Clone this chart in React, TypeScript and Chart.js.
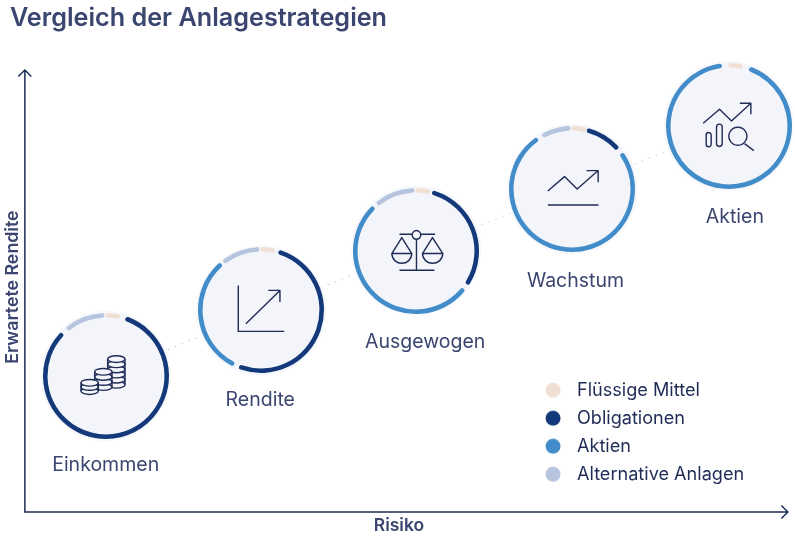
import React, { useEffect, useRef } from "react";
import { Chart, registerables } from "chart.js";

Chart.register(...registerables);

const strategies = ["Einkommen", "Rendite", "Ausgewogen", "Wachstum", "Aktien"];
const risk = [10.8, 31.6, 52.3, 73.2, 94.1];
const expectedReturn = [30.2, 44.8, 58.1, 71.8, 85.8];
const liquidity = [4, 4, 4, 4, 4];
const bonds = [85, 53, 31, 10, 0];
const equities = [0, 32.5, 54, 78, 96];
const alternatives = [11, 10.5, 11, 8, 0];

const assetLabels = ["Flüssige Mittel", "Obligationen", "Aktien", "Alternative Anlagen"];
const assetColors = ["#f0dfd3", "#14397b", "#418cc9", "#b6c4dd"];

const TITLE = "Vergleich der Anlagestrategien";
const X_TITLE = "Risiko";
const Y_TITLE = "Erwartete Rendite";

const FONT = "Inter, 'Liberation Sans', sans-serif";
const INK = "#1f2c55";
const TEXT = "#3a4570";

const labelOffsets = [[0, 89], [-1, 89.5], [9, 91.5], [3, 92.5], [6, 91]];

function coinStack(ctx: CanvasRenderingContext2D, x: number, top: number, rx: number, ry: number, layers: number, step: number) {
  for (let i = layers; i >= 0; i--) {
    const y = top + i * step;
    ctx.beginPath();
    ctx.ellipse(x, y, rx, ry, 0, 0, Math.PI * 2);
    ctx.fillStyle = "#f3f5fb";
    ctx.fill();
    ctx.stroke();
    if (i < layers) {
      ctx.beginPath();
      ctx.moveTo(x - rx, y);
      ctx.lineTo(x - rx, y + step);
      ctx.moveTo(x + rx, y);
      ctx.lineTo(x + rx, y + step);
      ctx.stroke();
    }
  }
}

const iconPaths: { origin: [number, number]; draw: (ctx: CanvasRenderingContext2D) => void }[] = [
  {
    origin: [228, 228],
    draw: (ctx) => {
      coinStack(ctx, 260, 177, 26, 10, 5, 15.4);
      coinStack(ctx, 221, 215, 26, 10, 3, 15.3);
      coinStack(ctx, 180, 248, 26, 10, 2, 12.5);
    },
  },
  {
    origin: [214, 225],
    draw: (ctx) => {
      ctx.stroke(new Path2D("M145 150V288H283M168 265L270 165M235 165H270V200"));
    },
  },
  {
    origin: [213, 226],
    draw: (ctx) => {
      ctx.stroke(new Path2D("M163 177H201M227 177H270M214 192V285M163 285H268"));
      ctx.stroke(new Path2D("M214 166a13 13 0 1 0 .01 0Z"));
      ctx.stroke(new Path2D("M170 187L140 235H200ZM140 235C142 274 198 274 200 235"));
      ctx.stroke(new Path2D("M262 187L232 235H293ZM232 235C234 274 291 274 293 235"));
    },
  },
  {
    origin: [216, 222],
    draw: (ctx) => {
      ctx.stroke(new Path2D("M142 228L192 185L230 222L293 167M258 167H293V202M142 270H294"));
    },
  },
  {
    origin: [220, 213],
    draw: (ctx) => {
      ctx.stroke(new Path2D("M143 205L192 163L228 198L286 145M253 145H286V178"));
      ctx.stroke(new Path2D("M152 240a7.5 7.5 0 0 1 15 0V268a7.5 7.5 0 0 1 -15 0Z"));
      ctx.stroke(new Path2D("M183 216a8.5 8.5 0 0 1 17 0V266a8.5 8.5 0 0 1 -17 0Z"));
      ctx.stroke(new Path2D("M247 217a27 27 0 1 0 .01 0Z"));
      ctx.stroke(new Path2D("M267 266L295 287"));
    },
  },
];

const legendPointStyle = (color: string) => {
  const c = document.createElement("canvas");
  c.width = 24;
  c.height = 18;
  const ctx = c.getContext("2d")!;
  ctx.fillStyle = color;
  ctx.beginPath();
  ctx.arc(9.05, 9, 7.5, 0, Math.PI * 2);
  ctx.fill();
  return c;
};

const decorations = {
  id: "decorations",
  afterLayout(chart: any) {
    chart.titleBlock.left = 10;
    chart.titleBlock.right = chart.width;
    const legend = chart.legend;
    legend.left = 534.05;
    legend.right = chart.width;
    legend.top = 371.2;
    legend.bottom = 538;
  },
  beforeDatasetsDraw(chart: any) {
    const { ctx, chartArea } = chart;
    const { left, bottom } = chartArea;
    const tipX = left + 763;
    const tipY = bottom - 442;
    ctx.save();
    ctx.strokeStyle = INK;
    ctx.lineWidth = 1.5;
    ctx.beginPath();
    ctx.moveTo(left, tipY);
    ctx.lineTo(left, bottom);
    ctx.lineTo(tipX, bottom);
    ctx.moveTo(left - 6.5, tipY + 6.5);
    ctx.lineTo(left, tipY);
    ctx.lineTo(left + 6.5, tipY + 6.5);
    ctx.moveTo(tipX - 6.5, bottom - 6.5);
    ctx.lineTo(tipX, bottom);
    ctx.lineTo(tipX - 6.5, bottom + 6.5);
    ctx.stroke();
    ctx.restore();
  },
  afterDatasetsDraw(chart: any) {
    const { ctx, scales } = chart;
    strategies.forEach((name, i) => {
      const px = scales.x.getPixelForValue(risk[i]);
      const py = scales.y.getPixelForValue(expectedReturn[i]);
      ctx.save();
      ctx.translate(px, py);
      ctx.scale(1 / 3, 1 / 3);
      const icon = iconPaths[i];
      ctx.translate(-icon.origin[0], -icon.origin[1]);
      ctx.strokeStyle = INK;
      ctx.lineWidth = 4.2;
      ctx.lineJoin = "round";
      icon.draw(ctx);
      ctx.restore();
      ctx.save();
      ctx.fillStyle = TEXT;
      ctx.font = `400 19.5px ${FONT}`;
      ctx.textAlign = "center";
      ctx.textBaseline = "middle";
      ctx.fillText(name, px + labelOffsets[i][0], py + labelOffsets[i][1]);
      ctx.restore();
    });
  },
};

export default function App() {
  const mainRef = useRef<HTMLCanvasElement>(null);
  const ringRefs = useRef<(HTMLCanvasElement | null)[]>([]);

  useEffect(() => {
    const charts: Chart[] = [];
    const main = new Chart(mainRef.current!, {
      type: "scatter",
      data: {
        datasets: [
          {
            data: risk.map((x, i) => ({ x, y: expectedReturn[i] })),
            showLine: true,
            tension: 0,
            clip: false,
            borderColor: "#d5d9e6",
            borderWidth: 1.5,
            borderDash: [1.5, 6],
            pointRadius: 64,
            pointBackgroundColor: "#f3f5fb",
            pointBorderColor: "#f7f8fc",
            pointBorderWidth: 2,
          },
        ],
      },
      options: {
        responsive: false,
        animation: false,
        layout: { autoPadding: false, padding: { left: 1.5, right: 22, top: 0, bottom: 2 } },
        scales: {
          x: {
            min: 0,
            max: 100,
            grid: { display: false, drawTicks: false },
            border: { display: false },
            ticks: { display: false },
            title: {
              display: true,
              text: X_TITLE,
              color: TEXT,
              font: { family: FONT, size: 17.5, weight: 600, lineHeight: 1.2 },
              padding: { top: 3, bottom: 0 },
            },
          },
          y: {
            min: 0,
            max: 100,
            grid: { display: false, drawTicks: false },
            border: { display: false },
            ticks: { display: false },
            title: {
              display: true,
              text: Y_TITLE,
              color: TEXT,
              font: { family: FONT, size: 17.8, weight: 600, lineHeight: 1.2 },
              padding: { top: 0, bottom: 2 },
            },
          },
        },
        plugins: {
          tooltip: { enabled: false },
          title: {
            display: true,
            text: TITLE,
            align: "start",
            color: TEXT,
            font: { family: FONT, size: 25.2, weight: 600, lineHeight: 1.2 },
            padding: { top: 3, bottom: 28.8 },
          },
          legend: {
            display: true,
            position: "chartArea" as any,
            align: "start",
            labels: {
              usePointStyle: true,
              pointStyleWidth: 24,
              padding: 9.9,
              font: { family: FONT, size: 18.1 },
              generateLabels: () =>
                assetLabels.map((text, i) => ({
                  text,
                  pointStyle: legendPointStyle(assetColors[i]),
                  fillStyle: assetColors[i],
                  strokeStyle: assetColors[i],
                  fontColor: INK,
                  lineWidth: 0,
                  hidden: false,
                  datasetIndex: i,
                })),
            },
          },
        },
      },
      plugins: [decorations],
    } as any);
    charts.push(main);

    strategies.forEach((name, i) => {
      const canvas = ringRefs.current[i]!;
      const px = main.scales.x.getPixelForValue(risk[i]);
      const py = main.scales.y.getPixelForValue(expectedReturn[i]);
      canvas.style.left = `${px - 65}px`;
      canvas.style.top = `${py - 65}px`;
      charts.push(
        new Chart(canvas, {
          type: "doughnut",
          data: {
            labels: [assetLabels[1], assetLabels[2], assetLabels[3], assetLabels[0]],
            datasets: [
              {
                label: name,
                data: [bonds[i], equities[i], alternatives[i], liquidity[i]],
                backgroundColor: [assetColors[1], assetColors[2], assetColors[3], assetColors[0]],
                borderWidth: 0,
                borderRadius: 3,
                spacing: 4,
              },
            ],
          },
          options: {
            responsive: false,
            animation: false,
            rotation: 13.5,
            radius: 61,
            cutout: "92.5%",
            plugins: { legend: { display: false }, tooltip: { enabled: false }, title: { display: false } },
          },
        } as any)
      );
    });

    return () => charts.forEach((c) => c.destroy());
  }, []);

  return (
    <div style={{ position: "absolute", left: 0, top: 0, width: 795, height: 538, background: "#fff", overflow: "hidden" }}>
      <canvas ref={mainRef} width={795} height={538} style={{ position: "absolute", left: 0, top: 0 }} />
      {strategies.map((name, i) => (
        <canvas
          key={name}
          ref={(el) => {
            ringRefs.current[i] = el;
          }}
          width={130}
          height={130}
          style={{ position: "absolute" }}
        />
      ))}
    </div>
  );
}
